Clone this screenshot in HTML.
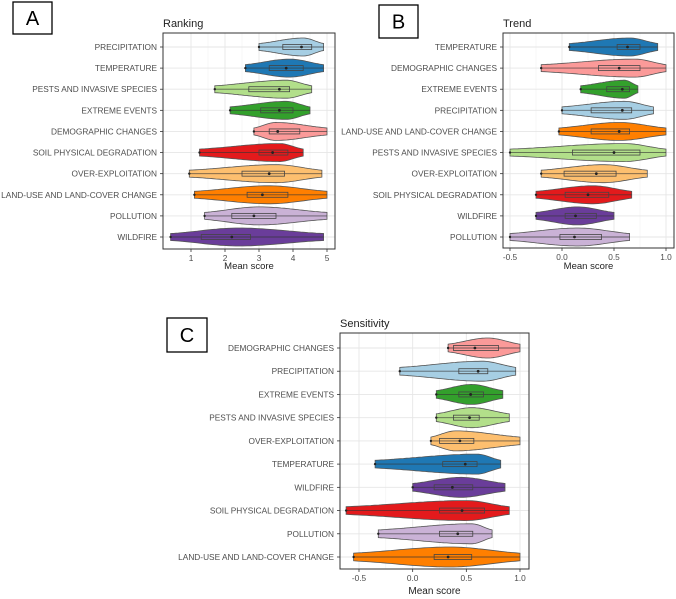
<!DOCTYPE html>
<html><head><meta charset="utf-8">
<style>
body{margin:0;background:#fff;font-family:"Liberation Sans",sans-serif;}
svg{display:block}
</style></head>
<body>
<svg id="chart" width="676" height="599" viewBox="0 0 676 599" xmlns="http://www.w3.org/2000/svg"></svg>
<script>
// ---------- Panel A: Ranking ----------
const catsA = ["PRECIPITATION","TEMPERATURE","PESTS AND INVASIVE SPECIES","EXTREME EVENTS","DEMOGRAPHIC CHANGES","SOIL PHYSICAL DEGRADATION","OVER-EXPLOITATION","LAND-USE AND LAND-COVER CHANGE","POLLUTION","WILDFIRE"];
const minA  = [3.0,2.6,1.7,2.15,2.85,1.25,0.95,1.1,1.4,0.4];
const maxA  = [4.9,4.9,4.55,4.5,5.0,4.3,4.85,5.0,5.0,4.9];
const modeA = [4.3,3.9,3.8,3.8,3.5,3.6,3.5,3.3,3.0,2.4];
const q1A   = [3.7,3.3,2.7,3.05,3.3,3.0,2.5,2.65,2.2,1.3];
const medA  = [4.25,3.8,3.6,3.6,3.55,3.4,3.3,3.1,2.85,2.2];
const q3A   = [4.55,4.3,3.9,4.0,4.2,3.85,3.75,3.85,3.5,2.75];
const ticksA = [1,2,3,4,5];
// ---------- Panel B: Trend ----------
const catsB = ["TEMPERATURE","DEMOGRAPHIC CHANGES","EXTREME EVENTS","PRECIPITATION","LAND-USE AND LAND-COVER CHANGE","PESTS AND INVASIVE SPECIES","OVER-EXPLOITATION","SOIL PHYSICAL DEGRADATION","WILDFIRE","POLLUTION"];
const minB  = [0.07,-0.2,0.18,0.0,-0.03,-0.5,-0.2,-0.25,-0.25,-0.5];
const maxB  = [0.92,1.0,0.73,0.88,1.0,1.0,0.82,0.67,0.5,0.65];
const modeB = [0.65,0.7,0.6,0.6,0.55,0.6,0.4,0.3,0.15,0.15];
const q1B   = [0.53,0.35,0.43,0.28,0.28,0.1,0.02,0.03,0.03,-0.02];
const medB  = [0.63,0.55,0.58,0.58,0.55,0.5,0.33,0.25,0.13,0.12];
const q3B   = [0.75,0.75,0.65,0.67,0.65,0.75,0.52,0.45,0.33,0.38];
const ticksB = [-0.5,0.0,0.5,1.0];
// ---------- Panel C: Sensitivity ----------
const catsC = ["DEMOGRAPHIC CHANGES","PRECIPITATION","EXTREME EVENTS","PESTS AND INVASIVE SPECIES","OVER-EXPLOITATION","TEMPERATURE","WILDFIRE","SOIL PHYSICAL DEGRADATION","POLLUTION","LAND-USE AND LAND-COVER CHANGE"];
const minC  = [0.33,-0.12,0.22,0.22,0.17,-0.35,0.0,-0.62,-0.32,-0.55];
const maxC  = [1.0,0.96,0.84,0.9,1.0,0.82,0.86,0.9,0.74,1.0];
const modeC = [0.7,0.65,0.55,0.55,0.4,0.6,0.45,0.5,0.55,0.35];
const q1C   = [0.38,0.43,0.43,0.38,0.25,0.28,0.2,0.25,0.25,0.2];
const medC  = [0.58,0.61,0.54,0.53,0.44,0.49,0.37,0.46,0.42,0.33];
const q3C   = [0.8,0.7,0.66,0.62,0.57,0.6,0.56,0.67,0.56,0.55];
const ticksC = [-0.5,0.0,0.5,1.0];

const colorOf = {"PRECIPITATION":"#a6cee3","TEMPERATURE":"#1f78b4","PESTS AND INVASIVE SPECIES":"#b2df8a","EXTREME EVENTS":"#33a02c","DEMOGRAPHIC CHANGES":"#fb9a99","SOIL PHYSICAL DEGRADATION":"#e31a1c","OVER-EXPLOITATION":"#fdbf6f","LAND-USE AND LAND-COVER CHANGE":"#ff7f00","POLLUTION":"#cab2d6","WILDFIRE":"#6a3d9a"};

const NS="http://www.w3.org/2000/svg";
const svg=document.getElementById('chart');
function mk(tag,attrs,parent){const e=document.createElementNS(NS,tag);for(const k in attrs)e.setAttribute(k,attrs[k]);(parent||svg).appendChild(e);return e;}
function fmt(v,dec){return dec?v.toFixed(1):String(v);}

function panel(cfg){
  const g=mk('g',{});
  
  
  const {L,R,T,B,x0,x1,px0,px1,cats,mins,maxs,modes,q1s,meds,q3s,ticks,dec,hw}=cfg;
  const sx=v=>px0+(v-x0)*(px1-px0)/(x1-x0);
  const n=cats.length, step=(cfg.yLast-cfg.yFirst)/(n-1);
  const sy=i=>cfg.yFirst+i*step;
  const lb=mk('rect',{x:cfg.lx,y:cfg.ly,width:cfg.lw,height:cfg.lh,fill:'#fff',stroke:'#000','stroke-width':1.3},g);
  
  
  const lt=mk('text',{x:cfg.lx+cfg.lw/2,y:cfg.ly+cfg.lh/2+7,'text-anchor':'middle','font-size':20,fill:'#000'},g);
  lt.textContent=cfg.letter;
  
  
  const tt=mk('text',{x:L,y:T-6,'font-size':11,fill:'#222'},g);
  tt.textContent=cfg.title;
  
  
  for(let k=0;k<ticks.length;k++){
    const x=sx(ticks[k]);
    mk('line',{x1:x,x2:x,y1:T,y2:B,stroke:'#e6e6e6','stroke-width':0.9},g);
    if(k<ticks.length-1){const xm=sx((ticks[k]+ticks[k+1])/2);mk('line',{x1:xm,x2:xm,y1:T,y2:B,stroke:'#f2f2f2','stroke-width':0.6},g);}
  }
  for(let i=0;i<n;i++) mk('line',{x1:L,x2:R,y1:sy(i),y2:sy(i),stroke:'#e6e6e6','stroke-width':0.9},g);
  for(let i=0;i<n;i++){
    const y=sy(i), c=colorOf[cats[i]];
    const mn=mins[i],mx=maxs[i],mo=modes[i];
    const up=[],dn=[];
    const N=40;
    for(let s=0;s<=N;s++){
      const v=mn+(mx-mn)*s/N;
      const sc=(v<mo?(mo-mn):(mx-mo))*0.8+1e-6;
      const w=hw*(0.22+0.78*Math.exp(-Math.pow((v-mo)/sc,2)));
      up.push(sx(v).toFixed(1)+','+(y-w).toFixed(1));
      dn.unshift(sx(v).toFixed(1)+','+(y+w).toFixed(1));
    }
    const vp=mk('polygon',{points:up.concat(dn).join(' '),fill:c,stroke:'#555','stroke-width':0.8},g);
    
    
    mk('line',{x1:sx(mn),x2:sx(mx),y1:y,y2:y,stroke:'#333','stroke-width':0.9,'stroke-opacity':0.7},g);
    const bx=mk('rect',{x:sx(q1s[i]),y:y-2.5,width:sx(q3s[i])-sx(q1s[i]),height:5,fill:'none',stroke:'#444','stroke-width':0.8},g);
    
    
    mk('circle',{cx:sx(meds[i]),cy:y,r:1.4,fill:'#222'},g);
    mk('circle',{cx:sx(mn),cy:y,r:1.2,fill:'#222'},g);
    const lab=mk('text',{x:L-6,y:y+3,'text-anchor':'end','font-size':8.3,fill:'#4d4d4d'},g);
    lab.textContent=cats[i];
    
    
    mk('line',{x1:L-3,x2:L,y1:y,y2:y,stroke:'#333','stroke-width':0.8},g);
  }
  mk('rect',{x:L,y:T,width:R-L,height:B-T,fill:'none',stroke:'#333','stroke-width':1},g);
  for(let k=0;k<ticks.length;k++){
    const x=sx(ticks[k]);
    mk('line',{x1:x,x2:x,y1:B,y2:B+3,stroke:'#333','stroke-width':0.8},g);
    const t=mk('text',{x:x,y:B+12,'text-anchor':'middle','font-size':8.3,fill:'#4d4d4d'},g);
    t.textContent=fmt(ticks[k],dec);
    
    
  }
  const xt=mk('text',{x:(L+R)/2,y:B+cfg.xtOff,'text-anchor':'middle','font-size':cfg.xtSize,fill:'#222'},g);
  xt.textContent='Mean score';
  
  
}

panel({key:'ranking',letter:'A',title:'Ranking',lx:13,ly:2,lw:39,lh:32,L:163,R:335,T:33,B:249,x0:1,x1:5,px0:191,px1:327,cats:catsA,mins:minA,maxs:maxA,modes:modeA,q1s:q1A,meds:medA,q3s:q3A,ticks:ticksA,dec:false,hw:9,yFirst:47,yLast:237,xtOff:20,xtSize:9.5});
panel({key:'trend',letter:'B',title:'Trend',lx:379,ly:5,lw:39,lh:33,L:503,R:674,T:33,B:248,x0:-0.5,x1:1.0,px0:510,px1:666,cats:catsB,mins:minB,maxs:maxB,modes:modeB,q1s:q1B,meds:medB,q3s:q3B,ticks:ticksB,dec:true,hw:9,yFirst:47,yLast:237,xtOff:21,xtSize:9.5});
panel({key:'sensitivity',letter:'C',title:'Sensitivity',lx:167,ly:318,lw:40,lh:34,L:340,R:529,T:333,B:569,x0:-0.5,x1:1.0,px0:359,px1:520,cats:catsC,mins:minC,maxs:maxC,modes:modeC,q1s:q1C,meds:medC,q3s:q3C,ticks:ticksC,dec:true,hw:10,yFirst:348,yLast:557,xtOff:25,xtSize:10});
</script>
</body></html>
